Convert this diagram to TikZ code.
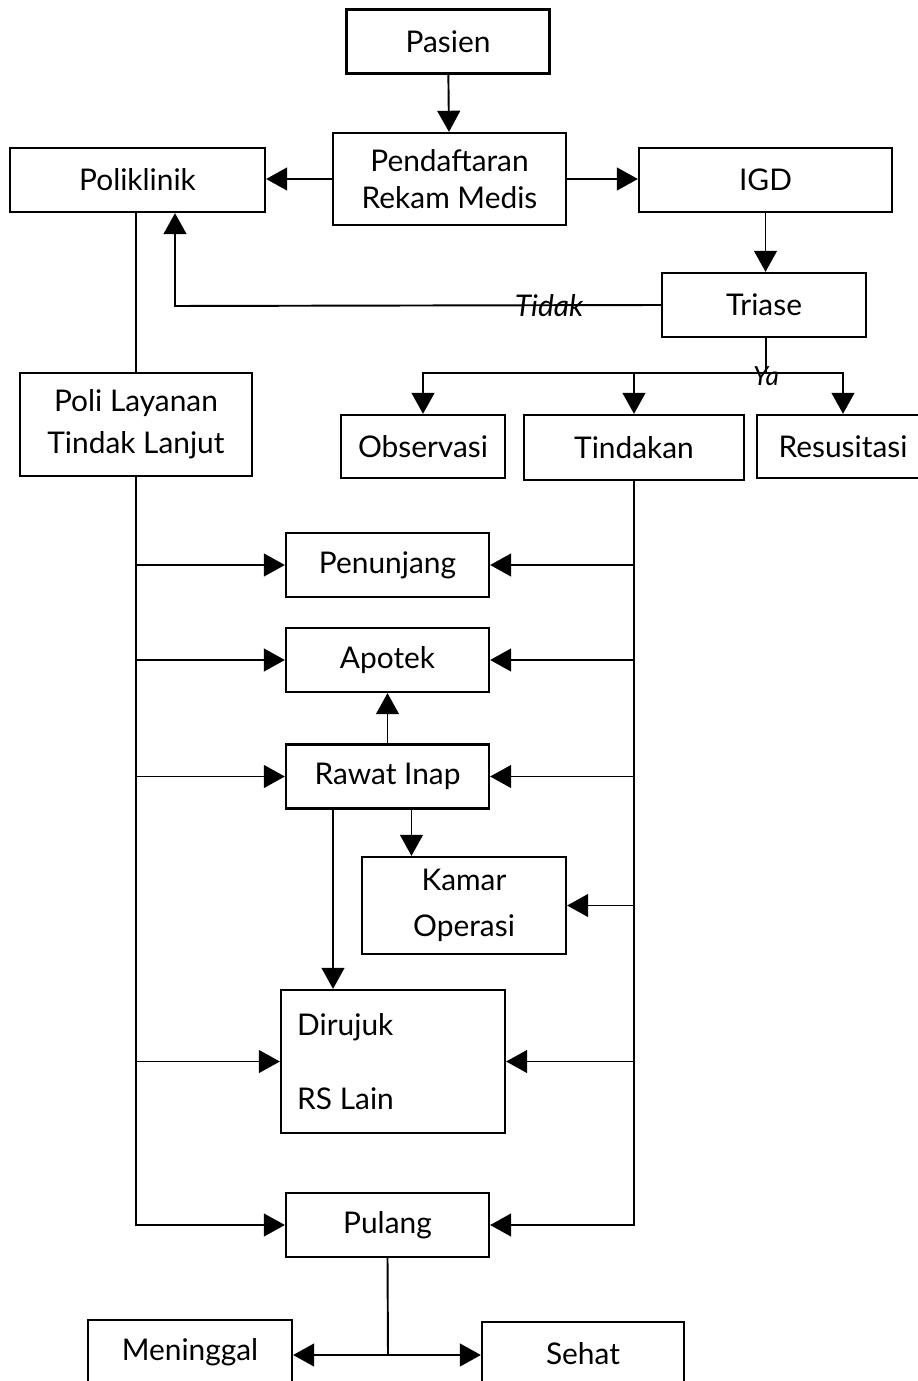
\documentclass[tikz,border=0pt]{standalone}
\usepackage{fontspec}
\setmainfont{Lato}
\usepackage{tikz}
\usetikzlibrary{arrows.meta,positioning}

\tikzset{
  kotak/.style={draw, line width=1.3pt, align=center, inner sep=2pt,
    minimum width=4.06cm, minimum height=1.28cm,
    font=\fontsize{17}{20}\selectfont},
  panah/.style={line width=1.1pt, -{Triangle[length=12pt,width=13pt]}},
  garis/.style={line width=1.1pt},
}

\begin{document}
\begin{tikzpicture}[x=0.02cm, y=-0.02cm]
			\useasboundingbox (0,0) rectangle (918,1381);
			\clip (0,0) rectangle (918,1381);

			\node[kotak] (pasien) at (448, 41.5) {Pasien};
			\node[kotak, minimum width=4.66cm, minimum height=1.84cm] (daftar) at (449.5, 179) {Pendaftaran\\[1pt]Rekam Medis};
			\node[kotak, minimum width=5.1cm] (poli) at (137.5, 180) {Poliklinik};
			\node[kotak, minimum width=5.06cm] (igd) at (765.5, 180) {IGD};
			\node[kotak, minimum width=4.08cm] (triase) at (764, 305) {Triase};
			\node[kotak, minimum width=4.64cm, minimum height=2.06cm] (lanjut) at (136, 424.5) {Poli Layanan\\[4pt]Tindak Lanjut};
			\node[kotak, minimum width=3.28cm, minimum height=1.26cm] (observasi) at (423, 446.5) {Observasi};
			\node[kotak, minimum width=4.4cm, minimum height=1.3cm] (tindakan) at (634, 447.5) {Tindakan};
			\node[kotak, minimum width=3.44cm, minimum height=1.26cm] (resusitasi) at (843, 446.5) {Resusitasi};
			\node[kotak] (penunjang) at (387.5, 565) {Penunjang};
			\node[kotak] (apotek) at (387.5, 660) {Apotek};
			\node[kotak] (rawat) at (387.5, 776.5) {Rawat Inap};
			\node[kotak, minimum width=4.08cm, minimum height=1.94cm] (kamar) at (464, 905.5) {Kamar\\[6pt]Operasi};
			\node[kotak, minimum width=4.48cm, minimum height=2.86cm, align=left] (dirujuk) at (393, 1061.5) {Dirujuk\\[22pt]RS Lain\hspace*{1.9cm}};
			\node[kotak] (pulang) at (387.5, 1225) {Pulang};
			\node[kotak, minimum width=4.08cm] (meninggal) at (190, 1352) {Meninggal};
			\node[kotak, minimum width=4.04cm] (sehat) at (583, 1354) {Sehat};

			\coordinate (tidakbelok) at (175, 306);
			\coordinate (ya) at (766, 373);
			\coordinate (pisah) at (388, 1355);

			\draw [panah] (pasien) to (daftar);
			\draw [panah] (daftar.west) to (daftar.west -| poli.east);
			\draw [panah] (daftar.east) to (daftar.east -| igd.west);
			\draw [panah] (igd) to (igd |- triase.north);
			\draw [panah] (triase.west) -- node[pos=0.23, font=\fontsize{17}{20}\selectfont\itshape] {Tidak} (tidakbelok) -- (tidakbelok |- poli.south);
			\draw [garis] (poli.south -| lanjut.north) to (lanjut.north);

			\draw [garis] (triase.south -| ya) to (ya);
			\node[font=\fontsize{15}{17}\selectfont\itshape, yshift=-2pt] at (ya) {Ya};
			\draw [panah] (ya) -| (observasi.north);
			\draw [panah] (ya) -| (resusitasi.north);
			\draw [panah] (tindakan.north |- ya) to (tindakan.north);

			\draw [panah] (lanjut.south) |- (pulang.west);
			\draw [panah] (lanjut.south |- penunjang) to (penunjang.west);
			\draw [panah] (lanjut.south |- apotek) to (apotek.west);
			\draw [panah] (lanjut.south |- rawat) to (rawat.west);
			\draw [panah] (lanjut.south |- dirujuk) to (dirujuk.west);

			\draw [panah] (tindakan.south) |- (pulang.east);
			\draw [panah] (tindakan.south |- penunjang) to (penunjang.east);
			\draw [panah] (tindakan.south |- apotek) to (apotek.east);
			\draw [panah] (tindakan.south |- rawat) to (rawat.east);
			\draw [panah] (tindakan.south |- kamar) to (kamar.east);
			\draw [panah] (tindakan.south |- dirujuk) to (dirujuk.east);

			\draw [panah] (rawat) to (apotek);
			\draw [panah] ([xshift=0.48cm]rawat.south) to ([xshift=0.48cm]rawat.south |- kamar.north);
			\draw [panah] ([xshift=-1.09cm]rawat.south) to ([xshift=-1.09cm]rawat.south |- dirujuk.north);

			\draw [garis] (pulang.south) to (pisah);
			\draw [panah] (pisah) to (pisah -| meninggal.east);
			\draw [panah] (pisah) to (pisah -| sehat.west);
		\end{tikzpicture}
\end{document}
